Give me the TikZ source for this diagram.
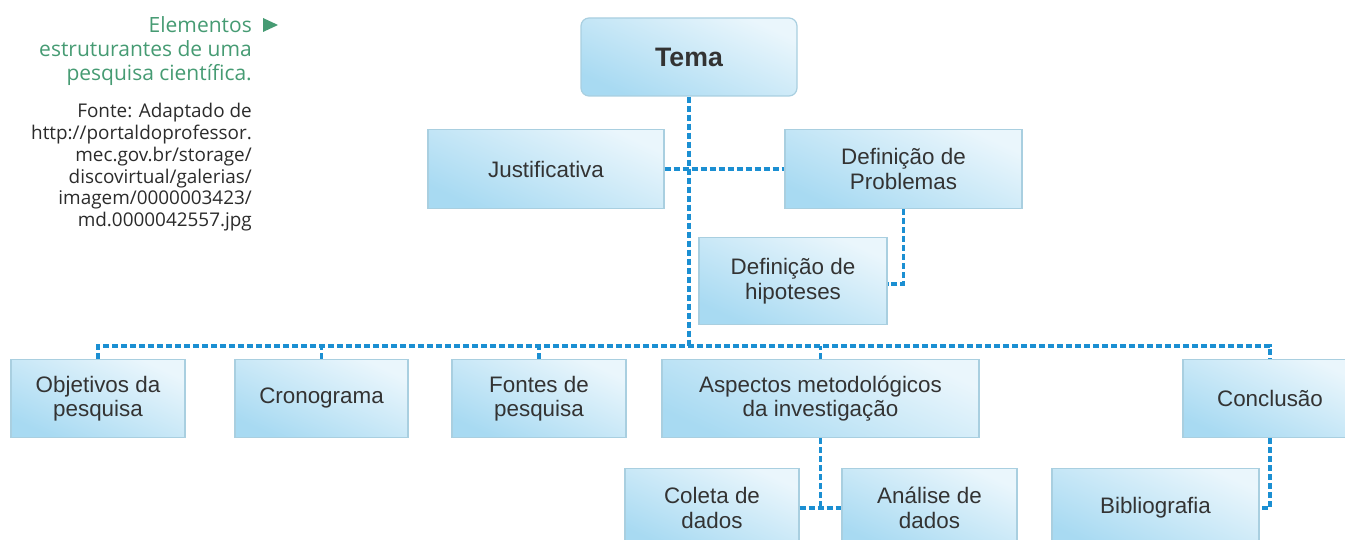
\documentclass[tikz,border=0pt]{standalone}
\usepackage{fontspec}
\setmainfont{Liberation Sans}
\newfontfamily\capfont{Open Sans}
\definecolor{boxtop}{HTML}{EAF6FC}
\definecolor{boxbot}{HTML}{A8DAF2}
\definecolor{boxline}{HTML}{A9CFE0}
\definecolor{linkblue}{HTML}{1B8FD2}
\definecolor{txt}{HTML}{333333}
\definecolor{capgreen}{HTML}{469B73}
\definecolor{capblack}{HTML}{2B2B2B}
\tikzset{
  box/.style={draw=boxline, line width=1.2pt, top color=boxtop, bottom color=boxbot, shading angle=-25,
    inner sep=0pt, align=center, text=txt, font=\fontsize{22.4}{24.5}\selectfont},
  link/.style={draw=linkblue, line width=3.2pt, dash pattern=on 6pt off 3pt},
  capg/.style={anchor=base east, inner sep=0pt, text=capgreen, font=\capfont\fontsize{21}{24}\selectfont},
  capb/.style={anchor=base east, inner sep=0pt, text=capblack, font=\capfont\fontsize{18.9}{22}\selectfont},
}
\begin{document}
\begin{tikzpicture}[x=1pt,y=-1pt]
\useasboundingbox (0,0) rectangle (1345,540);
\clip (0,0) rectangle (1345,540);
\coordinate (bus) at (0,346);
% boxes
\node[box, rounded corners=8pt, minimum width=216pt, minimum height=78pt, font=\bfseries\fontsize{26.7}{28}\selectfont] (tema) at (689,57) {Tema};
\node[box, minimum width=236pt, minimum height=79pt] (just) at (546,169) {Justificativa};
\node[box, minimum width=237pt, minimum height=79pt] (prob) at (903.5,169) {Definição de\\Problemas};
\node[box, minimum width=188pt, minimum height=87pt] (hip) at (793,281) {Definição de\\hipoteses};
\node[box, minimum width=174pt, minimum height=78pt] (obj) at (98,398.5) {Objetivos da\\pesquisa};
\node[box, minimum width=173pt, minimum height=78pt] (crono) at (321.5,398.5) {Cronograma};
\node[box, minimum width=174pt, minimum height=78pt] (fontes) at (539,398.5) {Fontes de\\pesquisa};
\node[box, minimum width=317pt, minimum height=78pt] (asp) at (820.5,398.5) {Aspectos metodológicos\\da investigação};
\node[box, minimum width=174pt, minimum height=78pt] (concl) at (1270,398.5) {Conclusão};
\node[box, minimum width=174pt, minimum height=79pt] (colet) at (712,508) {Coleta de\\dados};
\node[box, minimum width=175pt, minimum height=79pt] (anal) at (929.5,508) {Análise de\\dados};
\node[box, minimum width=207pt, minimum height=79pt] (bib) at (1155.5,508) {Bibliografia};
% connectors
\draw[link] (tema.south) -- (tema.south |- bus);
\draw[link] (just.east) -- (prob.west);
\draw[link] (prob.south) |- ([yshift=-3pt]hip.east);
\draw[link] (obj.north) -- (obj.north |- bus) -| (concl.north);
\draw[link] (crono.north) -- (crono.north |- bus);
\draw[link] (fontes.north) -- (fontes.north |- bus);
\draw[link] (asp.south) -- (asp.south |- colet.east);
\draw[link] (asp.north) -- (asp.north |- bus);
\draw[link] (colet.east) -- (anal.west);
\draw[link] (concl.south) |- (bib.east);
% caption
\node[capg] (c1) at (252,33) {Elementos};
\node[capg] (c2) at (252,57) {estruturantes de uma};
\node[capg] (c3) at (252,81) {pesquisa científica.};
\fill[capgreen] (263,18) -- (278,25) -- (263,32) -- cycle;
\node[capb] (c4) at (252,118) {Fonte: Adaptado de};
\node[capb] (c5) at (252,140) {http://portaldoprofessor.};
\node[capb] (c6) at (252,162) {mec.gov.br/storage/};
\node[capb] (c7) at (252,183.5) {discovirtual/galerias/};
\node[capb] (c8) at (252,205) {imagem/0000003423/};
\node[capb] (c9) at (252,227) {md.0000042557.jpg};
\end{tikzpicture}
\end{document}
